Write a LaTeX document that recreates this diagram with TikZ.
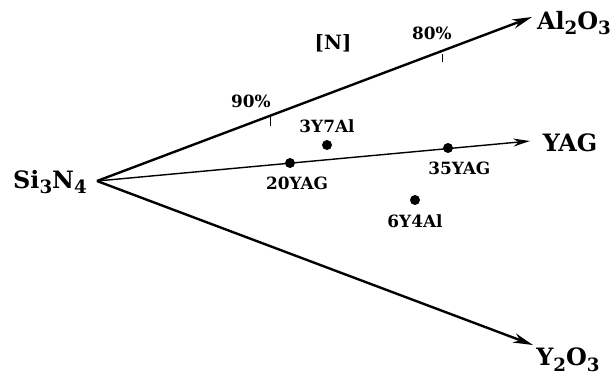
\documentclass[tikz,border=0pt]{standalone}
\usepackage{fontspec}
\setmainfont{DejaVu Serif}
\usepackage{tikz}
\usetikzlibrary{
    positioning,
    arrows.meta
}
\newcommand{\chemsub}[1]{\raisebox{-0.45ex}{\fontsize{13}{14}\selectfont #1}}
\tikzset{
    axisarrow/.style={
        -{Stealth[length=5mm, width=2.4mm]}, line width=1.7pt, draw=black
    },
    yagarrow/.style={
        -{Stealth[length=4.2mm, width=2mm]}, line width=1pt, draw=black
    },
    corner/.style={
        font=\fontsize{17}{20}\selectfont\bfseries, inner sep=1pt
    },
    sample/.style={
        circle, fill=black, inner sep=0pt, minimum size=2.5mm
    },
    samplelabel/.style={
        font=\fontsize{12}{14}\selectfont\bfseries, inner sep=1pt
    },
    tickmark/.style={
        line width=0.7pt
    }
}

\begin{document}
\begin{tikzpicture}[
    x=0.025cm, y=-0.025cm,
    node distance=1.5mm
]
    \useasboundingbox (0,0) rectangle (616,378);

    % --- CORNERS ---
    \coordinate (apex) at (97,181);
    \node[corner] (si3n4) at (50,182) {Si\chemsub{3}N\chemsub{4}};
    \node[corner] (al2o3) at (574,23) {Al\chemsub{2}O\chemsub{3}};
    \node[corner] (yag) at (570,143) {YAG};
    \node[corner] (y2o3) at (568,360) {Y\chemsub{2}O\chemsub{3}};

    \coordinate (tipA) at (532,17);
    \coordinate (tipY) at (530,141);
    \coordinate (tipB) at (533,345);

    % --- AXES ---
    \draw[axisarrow] (apex) -- (tipA);
    \draw[yagarrow] (apex) -- (tipY);
    \draw[axisarrow] (apex) -- (tipB);

    % --- NITROGEN SCALE ---
    \coordinate (t90) at (270,117);
    \coordinate (t80) at (442,54);
    \draw[tickmark] (t90) -- ++(0,9);
    \draw[tickmark] (t80) -- ++(0,8);
    \node[samplelabel] (l90) at (251,101) {90\%};
    \node[samplelabel] (l80) at (432,33) {80\%};
    \node[samplelabel, font=\fontsize{14}{16}\selectfont\bfseries] (nlabel) at (333,43) {[N]};

    % --- SAMPLES ---
    \node[sample] (d20) at (290,163) {};
    \node[sample] (d3y7) at (327,145) {};
    \node[sample] (d35) at (448,148) {};
    \node[sample] (d6y4) at (415,200) {};

    \node[samplelabel, below=1.8mm of d20, xshift=5pt] (l20) {20YAG};
    \node[samplelabel, above=1.3mm of d3y7] (l3y7) {3Y7Al};
    \node[samplelabel, below=1.8mm of d35, xshift=8pt] (l35) {35YAG};
    \node[samplelabel, below=1.8mm of d6y4] (l6y4) {6Y4Al};

\end{tikzpicture}
\end{document}
